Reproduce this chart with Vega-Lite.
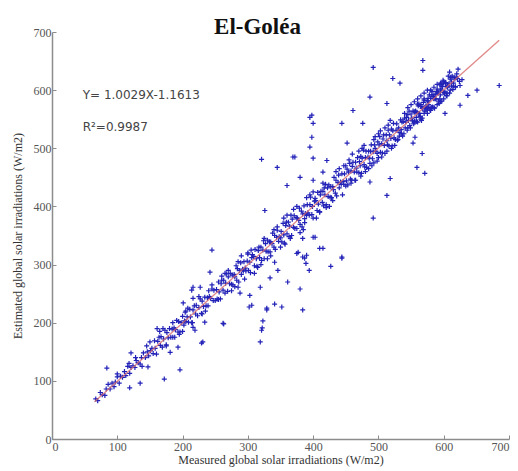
{
"$schema":"https://vega.github.io/schema/vega-lite/v6.json",
"width":457,"height":407,"autosize":"none",
"padding":{"left":52,"top":32,"right":9,"bottom":32},
"background":"white",
"title":{"text":"El-Goléa","font":"Liberation Serif","fontSize":23,"fontWeight":"bold","color":"#111","anchor":"middle","dx":-23,"offset":-13},
"datasets":{
"pts":[
{"x":67,"y":69},{"x":70,"y":66},{"x":74,"y":80},{"x":77,"y":76},{"x":81,"y":75},{"x":83,"y":86},{"x":86,"y":94},{"x":89,"y":86},{"x":92,"y":96},{"x":95,"y":90},{"x":97,"y":98},{"x":100,"y":107},{"x":103,"y":96},{"x":105,"y":108},{"x":108,"y":106},{"x":111,"y":116},{"x":113,"y":109},{"x":116,"y":125},{"x":119,"y":113},{"x":121,"y":123},{"x":124,"y":126},{"x":127,"y":123},{"x":129,"y":135},{"x":132,"y":131},{"x":135,"y":129},{"x":137,"y":140},{"x":140,"y":148},{"x":143,"y":140},{"x":146,"y":150},{"x":148,"y":143},{"x":151,"y":152},
{"x":100,"y":112},{"x":118,"y":130},{"x":128,"y":140},{"x":138,"y":125},{"x":145,"y":160},
{"x":153,"y":156},{"x":155,"y":147},{"x":157,"y":169},{"x":158,"y":156},{"x":160,"y":146},{"x":162,"y":168},{"x":164,"y":175},{"x":166,"y":161},{"x":167,"y":176},{"x":169,"y":158},{"x":171,"y":172},{"x":173,"y":187},{"x":175,"y":162},{"x":176,"y":183},{"x":178,"y":174},{"x":180,"y":190},{"x":182,"y":175},{"x":184,"y":189},{"x":185,"y":175},{"x":187,"y":191},{"x":189,"y":188},{"x":191,"y":204},{"x":193,"y":184},{"x":194,"y":202},{"x":196,"y":184},{"x":198,"y":200},{"x":200,"y":211},{"x":202,"y":196},{"x":203,"y":203},{"x":205,"y":202},
{"x":207,"y":210},{"x":209,"y":201},{"x":211,"y":223},{"x":212,"y":210},{"x":214,"y":200},{"x":216,"y":222},{"x":218,"y":229},{"x":220,"y":215},{"x":221,"y":230},{"x":223,"y":212},{"x":225,"y":226},{"x":227,"y":241},{"x":229,"y":216},{"x":230,"y":237},{"x":232,"y":228},{"x":234,"y":244},{"x":236,"y":229},{"x":238,"y":243},{"x":239,"y":229},{"x":241,"y":245},{"x":243,"y":242},{"x":245,"y":258},{"x":247,"y":238},{"x":248,"y":256},{"x":250,"y":238},
{"x":165,"y":185},{"x":175,"y":160},{"x":185,"y":200},{"x":195,"y":180},{"x":205,"y":220},{"x":215,"y":200},{"x":225,"y":245},{"x":235,"y":220},{"x":245,"y":265},{"x":208,"y":225},{"x":188,"y":175},{"x":230,"y":215},{"x":240,"y":255},{"x":170,"y":190},{"x":200,"y":185},
{"x":252,"y":257},{"x":253,"y":241},{"x":255,"y":270},{"x":256,"y":253},{"x":258,"y":241},{"x":259,"y":267},{"x":260,"y":273},{"x":262,"y":256},{"x":263,"y":273},{"x":265,"y":251},{"x":266,"y":268},{"x":267,"y":284},{"x":269,"y":254},{"x":270,"y":279},{"x":272,"y":267},{"x":273,"y":285},{"x":275,"y":266},{"x":276,"y":282},{"x":277,"y":265},{"x":279,"y":283},{"x":280,"y":279},{"x":282,"y":298},{"x":283,"y":273},{"x":284,"y":293},{"x":286,"y":270},{"x":287,"y":290},{"x":289,"y":303},{"x":290,"y":283},{"x":292,"y":292},{"x":293,"y":289},{"x":294,"y":305},{"x":296,"y":294},{"x":297,"y":289},{"x":299,"y":306},{"x":300,"y":318},{"x":301,"y":290},{"x":303,"y":304},{"x":304,"y":286},{"x":306,"y":312},{"x":307,"y":317},
{"x":309,"y":314},{"x":310,"y":298},{"x":311,"y":326},{"x":313,"y":310},{"x":314,"y":297},{"x":316,"y":324},{"x":317,"y":330},{"x":318,"y":312},{"x":320,"y":330},{"x":321,"y":307},{"x":323,"y":325},{"x":324,"y":341},{"x":325,"y":310},{"x":327,"y":336},{"x":328,"y":323},{"x":330,"y":342},{"x":331,"y":322},{"x":333,"y":339},{"x":334,"y":322},{"x":335,"y":339},{"x":337,"y":336},{"x":338,"y":354},{"x":340,"y":330},{"x":341,"y":350},{"x":342,"y":326},{"x":344,"y":347},{"x":345,"y":359},{"x":347,"y":340},{"x":348,"y":348},{"x":350,"y":346},
{"x":255,"y":240},{"x":265,"y":285},{"x":275,"y":255},{"x":285,"y":305},{"x":295,"y":275},{"x":305,"y":325},{"x":315,"y":295},{"x":325,"y":345},{"x":335,"y":315},{"x":345,"y":365},{"x":260,"y":280},{"x":280,"y":262},{"x":300,"y":320},{"x":320,"y":300},{"x":340,"y":360},{"x":310,"y":285},{"x":290,"y":315},{"x":330,"y":310},{"x":270,"y":290},{"x":350,"y":330},
{"x":351,"y":357},{"x":352,"y":339},{"x":354,"y":371},{"x":355,"y":351},{"x":356,"y":337},{"x":358,"y":367},{"x":359,"y":373},{"x":360,"y":353},{"x":362,"y":373},{"x":363,"y":348},{"x":364,"y":366},{"x":366,"y":385},{"x":367,"y":350},{"x":368,"y":378},{"x":370,"y":364},{"x":371,"y":384},{"x":372,"y":362},{"x":374,"y":381},{"x":375,"y":362},{"x":376,"y":380},{"x":378,"y":376},{"x":379,"y":397},{"x":380,"y":369},{"x":382,"y":392},{"x":383,"y":365},{"x":384,"y":387},{"x":386,"y":401},{"x":387,"y":379},{"x":388,"y":388},{"x":390,"y":385},{"x":391,"y":403},{"x":392,"y":389},{"x":394,"y":385},{"x":395,"y":403},{"x":396,"y":416},{"x":398,"y":386},{"x":399,"y":400},{"x":400,"y":380},{"x":402,"y":409},{"x":403,"y":414},
{"x":404,"y":410},{"x":406,"y":393},{"x":407,"y":424},{"x":408,"y":404},{"x":410,"y":391},{"x":411,"y":420},{"x":412,"y":426},{"x":414,"y":407},{"x":415,"y":426},{"x":416,"y":401},{"x":418,"y":420},{"x":419,"y":438},{"x":420,"y":403},{"x":422,"y":432},{"x":423,"y":417},{"x":424,"y":437},{"x":426,"y":416},{"x":427,"y":434},{"x":428,"y":415},{"x":430,"y":434},{"x":431,"y":429},{"x":432,"y":450},{"x":434,"y":423},{"x":435,"y":445},{"x":436,"y":418},{"x":438,"y":441},{"x":439,"y":454},{"x":440,"y":432},{"x":442,"y":442},{"x":443,"y":438},{"x":444,"y":456},{"x":446,"y":443},{"x":447,"y":438},{"x":448,"y":456},{"x":450,"y":470},
{"x":355,"y":380},{"x":365,"y":345},{"x":375,"y":400},{"x":385,"y":360},{"x":395,"y":420},{"x":405,"y":380},{"x":415,"y":440},{"x":425,"y":400},{"x":435,"y":460},{"x":445,"y":420},{"x":360,"y":385},{"x":380,"y":355},{"x":400,"y":425},{"x":420,"y":398},{"x":440,"y":465},{"x":410,"y":390},{"x":390,"y":415},{"x":430,"y":410},{"x":370,"y":395},{"x":450,"y":435},{"x":357,"y":335},{"x":387,"y":372},{"x":417,"y":432},{"x":447,"y":470},
{"x":451,"y":444},{"x":452,"y":464},{"x":453,"y":437},{"x":454,"y":459},{"x":456,"y":474},{"x":457,"y":447},{"x":458,"y":461},{"x":459,"y":445},{"x":460,"y":469},{"x":461,"y":476},{"x":463,"y":459},{"x":464,"y":445},{"x":465,"y":476},{"x":466,"y":466},{"x":467,"y":459},{"x":468,"y":484},{"x":470,"y":458},{"x":471,"y":477},{"x":472,"y":470},{"x":473,"y":486},{"x":474,"y":457},{"x":475,"y":483},{"x":477,"y":497},{"x":478,"y":472},{"x":479,"y":468},{"x":480,"y":484},{"x":481,"y":495},{"x":482,"y":467},{"x":484,"y":485},{"x":485,"y":495},{"x":486,"y":483},{"x":487,"y":474},{"x":488,"y":495},{"x":489,"y":506},{"x":491,"y":482},{"x":492,"y":494},{"x":493,"y":475},{"x":494,"y":506},{"x":495,"y":500},{"x":496,"y":495},
{"x":498,"y":491},{"x":499,"y":511},{"x":500,"y":484},{"x":501,"y":506},{"x":502,"y":520},{"x":503,"y":493},{"x":505,"y":508},{"x":506,"y":492},{"x":507,"y":516},{"x":508,"y":523},{"x":509,"y":505},{"x":510,"y":491},{"x":512,"y":523},{"x":513,"y":513},{"x":514,"y":506},{"x":515,"y":531},{"x":516,"y":504},{"x":517,"y":523},{"x":519,"y":517},{"x":520,"y":533},{"x":521,"y":504},{"x":522,"y":530},{"x":523,"y":543},{"x":524,"y":518},{"x":526,"y":515},{"x":527,"y":531},{"x":528,"y":542},{"x":529,"y":514},{"x":530,"y":531},
{"x":455,"y":480},{"x":465,"y":445},{"x":475,"y":500},{"x":485,"y":465},{"x":495,"y":520},{"x":505,"y":485},{"x":515,"y":540},{"x":525,"y":505},{"x":460,"y":490},{"x":480,"y":460},{"x":500,"y":525},{"x":520,"y":500},{"x":470,"y":495},{"x":490,"y":470},{"x":510,"y":535},{"x":530,"y":515},{"x":458,"y":440},{"x":478,"y":505},{"x":498,"y":478},{"x":518,"y":548},{"x":503,"y":530},{"x":513,"y":495},{"x":473,"y":452},{"x":493,"y":515},
{"x":531,"y":535},{"x":532,"y":521},{"x":534,"y":549},{"x":535,"y":532},{"x":537,"y":521},{"x":538,"y":546},{"x":540,"y":552},{"x":541,"y":535},{"x":543,"y":553},{"x":544,"y":531},{"x":546,"y":548},{"x":547,"y":564},{"x":549,"y":535},{"x":550,"y":559},{"x":552,"y":547},{"x":553,"y":564},{"x":555,"y":547},{"x":556,"y":562},{"x":558,"y":546},{"x":559,"y":562},{"x":561,"y":560},{"x":562,"y":576},{"x":564,"y":555},{"x":565,"y":572},{"x":567,"y":552},{"x":568,"y":569},{"x":570,"y":583},{"x":571,"y":564},{"x":573,"y":573},{"x":574,"y":570},{"x":576,"y":586},{"x":577,"y":575},{"x":579,"y":569},{"x":580,"y":586},{"x":582,"y":598},{"x":583,"y":571},{"x":585,"y":586},{"x":586,"y":569},{"x":588,"y":593},{"x":589,"y":598},
{"x":591,"y":595},{"x":592,"y":581},{"x":594,"y":609},{"x":595,"y":592},{"x":597,"y":581},{"x":598,"y":606},{"x":600,"y":612},{"x":601,"y":595},{"x":603,"y":613},{"x":604,"y":591},{"x":606,"y":608},{"x":607,"y":624},{"x":609,"y":595},{"x":610,"y":619},{"x":612,"y":607},{"x":613,"y":624},{"x":615,"y":607},{"x":616,"y":622},{"x":618,"y":606},{"x":619,"y":622},{"x":621,"y":620},{"x":622,"y":636},{"x":624,"y":615},
{"x":533,"y":527},{"x":536,"y":545},{"x":539,"y":525},{"x":542,"y":545},{"x":545,"y":558},{"x":548,"y":539},{"x":551,"y":552},{"x":554,"y":542},{"x":557,"y":564},{"x":560,"y":576},{"x":563,"y":560},{"x":566,"y":548},{"x":569,"y":579},{"x":572,"y":571},{"x":575,"y":568},{"x":578,"y":592},{"x":581,"y":570},{"x":584,"y":589},{"x":587,"y":585},{"x":590,"y":602},{"x":593,"y":577},{"x":596,"y":602},{"x":599,"y":617},{"x":602,"y":597},{"x":605,"y":595},{"x":608,"y":611},{"x":611,"y":622},{"x":614,"y":601},{"x":617,"y":619},{"x":620,"y":628},
{"x":555,"y":563},{"x":558,"y":553},{"x":561,"y":573},{"x":564,"y":554},{"x":567,"y":569},{"x":570,"y":585},{"x":573,"y":566},{"x":576,"y":580},{"x":579,"y":566},{"x":582,"y":592},{"x":585,"y":585},{"x":588,"y":585},{"x":591,"y":597},{"x":594,"y":585},{"x":597,"y":610},{"x":600,"y":596},{"x":603,"y":612},{"x":606,"y":605},
{"x":535,"y":525},{"x":540,"y":560},{"x":545,"y":535},{"x":550,"y":575},{"x":555,"y":545},{"x":560,"y":585},{"x":565,"y":550},{"x":570,"y":595},{"x":575,"y":560},{"x":580,"y":600},{"x":585,"y":570},{"x":590,"y":610},{"x":595,"y":580},{"x":600,"y":615},{"x":605,"y":590},{"x":610,"y":600},{"x":615,"y":612},{"x":560,"y":545},{"x":565,"y":590},{"x":570,"y":560},{"x":575,"y":600},{"x":580,"y":565},{"x":585,"y":605},{"x":590,"y":575},{"x":595,"y":612},{"x":600,"y":585},{"x":545,"y":570},{"x":555,"y":580},{"x":565,"y":575},{"x":575,"y":582},{"x":585,"y":592},{"x":595,"y":600},{"x":605,"y":606},{"x":612,"y":614},{"x":618,"y":605},{"x":625,"y":608},{"x":628,"y":618},
{"x":84,"y":122},{"x":119,"y":88},{"x":135,"y":96},{"x":172,"y":103},{"x":196,"y":119},{"x":229,"y":165},{"x":263,"y":198},{"x":302,"y":227},{"x":121,"y":148},{"x":147,"y":124},{"x":150,"y":167},{"x":161,"y":190},{"x":204,"y":218},{"x":216,"y":242},{"x":227,"y":261},{"x":216,"y":261},{"x":216,"y":192},{"x":231,"y":167},{"x":193,"y":158},{"x":181,"y":149},{"x":319,"y":167},{"x":321,"y":187},{"x":323,"y":203},{"x":329,"y":222},{"x":341,"y":232},{"x":352,"y":227},{"x":384,"y":222},{"x":390,"y":316},{"x":389,"y":302},{"x":394,"y":290},{"x":427,"y":297},{"x":444,"y":311},{"x":380,"y":258},{"x":492,"y":639},{"x":568,"y":651},{"x":568,"y":634},{"x":609,"y":631},{"x":685,"y":608},{"x":651,"y":600},{"x":637,"y":591},{"x":522,"y":620},{"x":487,"y":588},{"x":461,"y":565},{"x":444,"y":543},{"x":395,"y":553},{"x":400,"y":543},{"x":398,"y":519},{"x":395,"y":502},{"x":369,"y":485},{"x":625,"y":574},{"x":602,"y":560},{"x":567,"y":491},{"x":559,"y":467},{"x":571,"y":457},{"x":513,"y":577},{"x":533,"y":612},{"x":553,"y":509},{"x":556,"y":519},{"x":476,"y":543},{"x":345,"y":467},{"x":372,"y":485},{"x":400,"y":483},{"x":421,"y":479},{"x":452,"y":509},{"x":360,"y":436},{"x":380,"y":450},{"x":400,"y":445},{"x":415,"y":459},{"x":518,"y":448},{"x":513,"y":419},{"x":492,"y":380},{"x":487,"y":442},{"x":415,"y":328},{"x":444,"y":313},{"x":384,"y":313},{"x":375,"y":319},{"x":400,"y":347},{"x":326,"y":393},{"x":245,"y":325},{"x":242,"y":287},{"x":214,"y":256},{"x":303,"y":247},{"x":334,"y":277},{"x":306,"y":230},{"x":329,"y":225},{"x":361,"y":270},{"x":262,"y":199},{"x":234,"y":201},{"x":322,"y":191},{"x":377,"y":321},{"x":387,"y":311},{"x":403,"y":347},{"x":384,"y":345},{"x":341,"y":304},{"x":346,"y":290},{"x":319,"y":261},{"x":285,"y":261},{"x":288,"y":251},{"x":201,"y":234},{"x":219,"y":187},{"x":321,"y":481},{"x":410,"y":328},{"x":398,"y":557}
],
"fit":[{"x":65,"y":64.03},{"x":685,"y":685.82}],
"ann":[{"x":47,"y":591,"t":"Y= 1.0029X-1.1613"},{"x":47,"y":536,"t":"R²=0.9987"}]
},
"layer":[
{"data":{"name":"pts"},
 "mark":{"type":"point","shape":"M-1,0H1M0,-1V1","filled":false,"stroke":"#2222b8","strokeWidth":1.2,"size":25,"opacity":1},
 "encoding":{
  "x":{"field":"x","type":"quantitative","scale":{"domain":[0,700],"nice":false,"zero":false},
   "axis":{"values":[0,100,200,300,400,500,600,700],"grid":false,"title":"Measured global solar irradiations (W/m2)","domainColor":"#8c8c8c","domainWidth":1.5,"tickColor":"#8c8c8c","tickSize":-4,"labelFont":"Liberation Serif","labelFontSize":12,"labelColor":"#555","labelPadding":6,"titleFont":"Liberation Serif","titleFontSize":12,"titleFontWeight":"normal","titleColor":"#333","titlePadding":2}},
  "y":{"field":"y","type":"quantitative","scale":{"domain":[0,700],"nice":false,"zero":false},
   "axis":{"values":[0,100,200,300,400,500,600,700],"grid":false,"title":"Estimated global solar irradiations (W/m2)","domainColor":"#8c8c8c","domainWidth":1.5,"tickColor":"#8c8c8c","tickSize":-4,"labelFont":"Liberation Serif","labelFontSize":12,"labelColor":"#555","labelPadding":5,"titleFont":"Liberation Serif","titleFontSize":12,"titleFontWeight":"normal","titleColor":"#333","titlePadding":9}}
 }},
{"data":{"name":"fit"},
 "mark":{"type":"line","color":"#d86a6a","strokeWidth":1.3,"opacity":0.8},
 "encoding":{"x":{"field":"x","type":"quantitative"},"y":{"field":"y","type":"quantitative"}}},
{"data":{"name":"ann"},
 "mark":{"type":"text","align":"left","baseline":"middle","font":"DejaVu Sans","fontSize":12,"color":"#444"},
 "encoding":{"x":{"field":"x","type":"quantitative"},"y":{"field":"y","type":"quantitative"},"text":{"field":"t"}}}
],
"config":{"view":{"stroke":null}}
}
